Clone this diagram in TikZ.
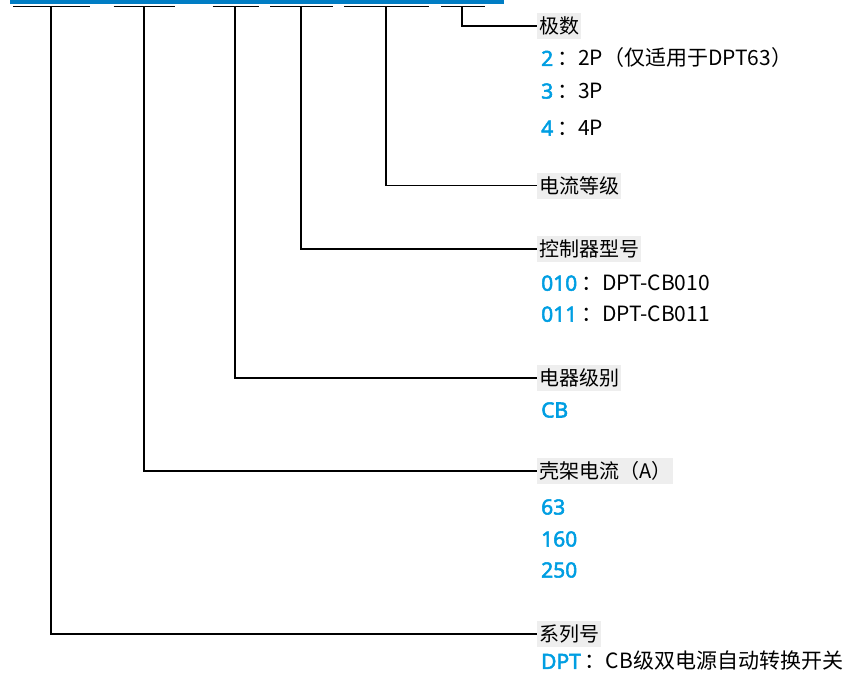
\documentclass[tikz,border=0pt]{standalone}
\usepackage{fontspec}
\setmainfont{Noto Sans}
\newfontfamily\cjk{Noto Sans CJK SC}
\newfontfamily\codefont{Noto Sans}[FakeBold=2.5]
\definecolor{codeblue}{RGB}{0,158,226}
\definecolor{barblue}{RGB}{0,125,196}
\definecolor{fieldgray}{RGB}{238,238,238}
\newcommand{\optcode}[1]{{\codefont\color{codeblue}#1}\hspace{4pt}}

\begin{document}
\begin{tikzpicture}[x=1pt, y=-1pt,
  field/.style={fill=fieldgray, anchor=west, inner xsep=2pt, inner ysep=0pt, minimum height=26pt, font=\cjk\fontsize{20}{24}\selectfont},
  option/.style={anchor=west, inner sep=0pt, font=\cjk\fontsize{21}{24}\selectfont},
  wire/.style={line width=1.5pt, black}
]
\useasboundingbox (0,0) rectangle (851,675);

% Blue header bar
\fill[barblue] (9.6,0) rectangle (504,3.5);

% Code segments with their tap points
\foreach \name/\a/\b/\m in {t1/13/89.5/51, t2/113.6/175/144, t3/212.5/259/235,
                             t4/270/333/301, t5/344/429/386, t6/441/484.5/462} {
  \draw[wire] (\a,6.5) -- (\b,6.5);
  \coordinate (\name) at (\m,6.5);
}

% Field labels
\node[field] (pole)   at (537,26)  {极数};
\node[field] (rated)  at (537,185.5) {电流等级};
\node[field] (ctrl)   at (537,249) {控制器型号};
\node[field] (grade)  at (537,378) {电器级别};
\node[field] (frame)  at (537,471) {壳架电流（A）};
\node[field] (series) at (537,634) {系列号};

% Options
\node[option] (pole2)  at (541,58)  {\optcode{2}：2P（仅适用于DPT63）};
\node[option] (pole3)  at (541,91)  {\optcode{3}：3P};
\node[option] (pole4)  at (541,128) {\optcode{4}：4P};
\node[option] (ctrl1)  at (541,283) {\optcode{010}：DPT-CB010};
\node[option] (ctrl2)  at (541,314) {\optcode{011}：DPT-CB011};
\node[option] (grade1) at (541,410) {\optcode{CB}};
\node[option] (frame1) at (541,507) {\optcode{63}};
\node[option] (frame2) at (541,539) {\optcode{160}};
\node[option] (frame3) at (541,570) {\optcode{250}};
\node[option] (series1) at (541,661) {\optcode{DPT}：CB级双电源自动转换开关};

% Leader lines
\foreach \t/\f in {t1/series, t2/frame, t3/grade, t4/ctrl, t5/rated, t6/pole} {
  \draw[wire] (\t) |- (\f.west);
}
\end{tikzpicture}
\end{document}
